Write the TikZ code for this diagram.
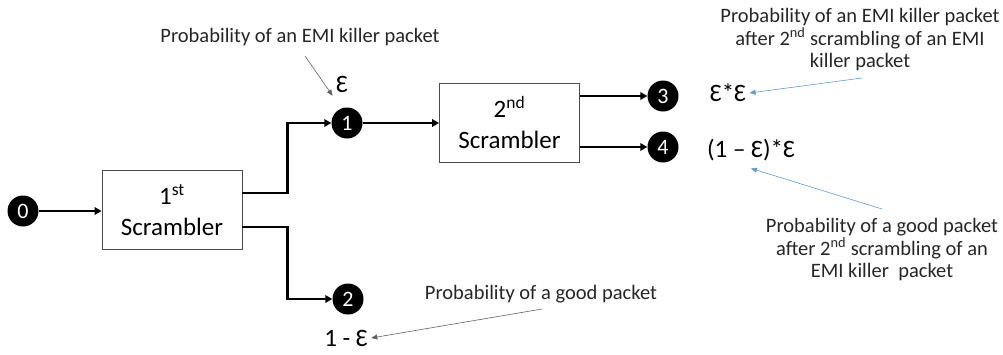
\documentclass[tikz,border=0pt]{standalone}
\usepackage{fontspec}
\setmainfont{Carlito}
\usetikzlibrary{arrows.meta,calc}
\definecolor{noteblue}{HTML}{5B9BD5}
\definecolor{notegray}{HTML}{606060}
\tikzset{
  dot/.style={circle,fill=black,text=white,inner sep=0pt,minimum size=31pt,font=\fontsize{22}{22}\selectfont},
  box/.style={draw=black!70,line width=0.9pt,minimum width=140pt,minimum height=79pt,align=center,
    font=\fontsize{25}{31}\selectfont,fill=white},
  conn/.style={line width=2.1pt,-{Triangle[length=7pt,width=7.5pt]}},
  note/.style={align=center,font=\fontsize{20.5}{22.5}\selectfont,text=black!85},
  val/.style={font=\fontsize{25}{25}\selectfont,text=black},
  grayarrow/.style={draw=notegray,line width=0.6pt,-{Triangle[length=6pt,width=5pt]}},
  bluearrow/.style={draw=noteblue,line width=0.6pt,-{Triangle[length=6pt,width=5pt]}}
}
\begin{document}
\begin{tikzpicture}[x=1pt,y=-1pt]
\useasboundingbox (0,0) rectangle (1003,354);

% state markers
\node[dot] (n0) at (23,211) {0};
\node[dot] (n1) at (347,123) {1};
\node[dot] (n2) at (348,299) {2};
\node[dot] (n3) at (663,96) {3};
\node[dot] (n4) at (663,147) {4};

% scramblers
\node[box] (s1) at (172,210) {1\textsuperscript{st}\\Scrambler};
\node[box] (s2) at (509.5,122.5) {2\textsuperscript{nd}\\Scrambler};

% signal paths
\draw[conn] (n0) -- (s1.west|-n0);
\coordinate (s1up) at ($(s1.east)+(0,-17)$);
\coordinate (s1dn) at ($(s1.east)+(0,17)$);
\draw[conn] (s1up) -- ++(45,0) |- (n1);
\draw[conn] (s1dn) -- ++(45,0) |- (n2);
\draw[conn] (n1) -- (s2.west|-n1);
\draw[conn] (s2.east|-n3) -- (n3);
\draw[conn] (s2.east|-n4) -- (n4);

% probabilities
\node[val] (e1) at (342,84) {Ɛ};
\node[val] (e2) at (346,338) {1 - Ɛ};
\node[val] (e3) at (728,93) {Ɛ*Ɛ};
\node[val] (e4) at (751,150) {(1 – Ɛ)*Ɛ};

% annotations
\node[note] (t1) at (300,37) {Probability of an EMI killer packet};
\node[note] (t2) at (541,294) {Probability of a good packet};
\node[note] (t3) at (860,40) {Probability of an EMI killer packet\\after 2\textsuperscript{nd} scrambling of an EMI\\killer packet};
\node[note] (t4) at (882,250) {Probability of a good packet\\after 2\textsuperscript{nd} scrambling of an\\EMI killer\ \ packet};

\coordinate (a1) at (305,56);
\coordinate (a2) at (542,309);
\coordinate (a3) at (862,78);
\coordinate (a4) at (882,209);
\draw[grayarrow] (a1) -- (e1.south west);
\draw[grayarrow] (a2) -- (e2.east);
\draw[bluearrow] (a3) -- (e3.east);
\draw[bluearrow] (a4) -- ($(e4.south)+(0,4)$);
\end{tikzpicture}
\end{document}
